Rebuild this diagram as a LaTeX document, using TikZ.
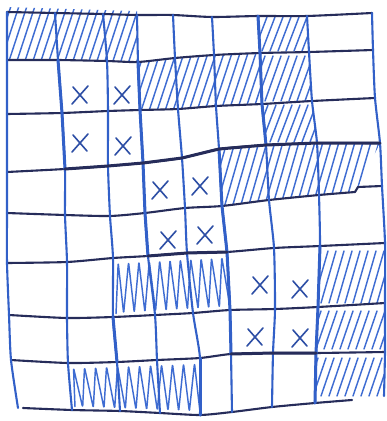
\documentclass[tikz,border=0pt]{standalone}
\usetikzlibrary{calc}
\definecolor{hcol}{RGB}{38,44,90}
\definecolor{vcol}{RGB}{50,96,200}
\definecolor{hatchcol}{RGB}{62,108,210}
\definecolor{xcol}{RGB}{45,78,165}
\begin{document}
\begin{tikzpicture}[x=1pt,y=-1pt,
  hl/.style={draw=hcol,line width=2.1pt,line cap=round,line join=round},
  vl/.style={draw=vcol,line width=2.1pt,line cap=round,line join=round},
  hlthick/.style={hl,line width=3pt},
  vlthick/.style={vl,line width=3pt},
  hatchline/.style={draw=hatchcol,line width=1.45pt,line cap=round},
  zz/.style={draw=hatchcol,line width=1.45pt,rounded corners=1.5pt,line join=round},
  xstroke/.style={draw=xcol,line width=1.6pt,line cap=round},
  pics/xmk/.style={code={\draw[xstroke] (-7,-8) -- (7,8); \draw[xstroke] (-8,9) -- (8,-9);}}
]
\fill[white] (0,0) rectangle (387,421);
\useasboundingbox (0,0) rectangle (387,421);
% grid points p<col><row>
\coordinate (p00) at (7,12);   \coordinate (p10) at (55,13);  \coordinate (p20) at (103,14);
\coordinate (p30) at (137,15); \coordinate (p40) at (173,15); \coordinate (p50) at (212,17);
\coordinate (p60) at (258,16); \coordinate (p70) at (307,16); \coordinate (p80) at (372,13);
\coordinate (p01) at (7,60);   \coordinate (p11) at (58,60);  \coordinate (p21) at (107,61);
\coordinate (p31) at (138,62); \coordinate (p41) at (175,58); \coordinate (p51) at (214,55);
\coordinate (p61) at (260,53); \coordinate (p71) at (309,52); \coordinate (p81) at (373,50);
\coordinate (p02) at (7,114);  \coordinate (p12) at (62,113); \coordinate (p22) at (108,111);
\coordinate (p32) at (140,110);\coordinate (p42) at (178,109);\coordinate (p52) at (216,106);
\coordinate (p62) at (262,104);\coordinate (p72) at (312,101);\coordinate (p82) at (375,98);
\coordinate (p03) at (7,172);  \coordinate (p13) at (65,169); \coordinate (p23) at (108,166);
\coordinate (p33) at (143,163);\coordinate (p43) at (182,158);\coordinate (p53) at (219,149);
\coordinate (p63) at (266,145);\coordinate (p73) at (317,143);\coordinate (p83) at (380,143);
\coordinate (p04) at (7,213);  \coordinate (p14) at (65,215); \coordinate (p24) at (110,216);
\coordinate (p34) at (145,213);\coordinate (p44) at (185,208);\coordinate (p54) at (222,206);
\coordinate (p64) at (269,200);\coordinate (p74) at (319,195);\coordinate (p84) at (382,186);
\coordinate (s1) at (355,192); \coordinate (s2) at (358,187);
\coordinate (p05) at (7,263);  \coordinate (p15) at (67,262); \coordinate (p25) at (113,258);
\coordinate (p35) at (148,256);\coordinate (p45) at (187,253);\coordinate (p55) at (227,252);
\coordinate (p65) at (274,248);\coordinate (p75) at (320,246);\coordinate (p85) at (385,243);
\coordinate (p06) at (9,315);  \coordinate (p16) at (67,318); \coordinate (p26) at (113,317);
\coordinate (p36) at (155,315);\coordinate (p46) at (193,313);\coordinate (p56) at (230,310);
\coordinate (p66) at (275,309);\coordinate (p76) at (318,307);\coordinate (p86) at (385,303);
\coordinate (p07) at (11,360); \coordinate (p17) at (68,363); \coordinate (p27) at (117,362);
\coordinate (p37) at (157,360);\coordinate (p47) at (200,358);\coordinate (p57) at (231,354);
\coordinate (p67) at (273,353);\coordinate (p77) at (316,353);\coordinate (p87) at (385,352);
\coordinate (p08) at (18,408); \coordinate (p18) at (72,410); \coordinate (p28) at (120,411);
\coordinate (p38) at (160,413);\coordinate (p48) at (200,415);\coordinate (p58) at (232,412);
\coordinate (p68) at (272,407);\coordinate (p78) at (315,403);\coordinate (p88) at (384,396);
\coordinate (e8) at (352,400); \coordinate (b0) at (23,408);

% hatch A: row 1, cols 1-3
\begin{scope}
\clip ($(p00)+(0,-5)$) -- ($(p30)+(0,-4)$) -- (p31) -- (p21) -- (p11) -- (p01) -- cycle;
\foreach \x in {-16,-8,...,140} \draw[hatchline] (\x,64) -- ++(19,-58);
\end{scope}
% hatch B: row 2, cols 4-6
\begin{scope}
\clip (p31) -- (p41) -- (p51) -- (p61) -- (p62) -- (p52) -- (p42) -- (p32) -- cycle;
\foreach \x in {116,124,...,262} \draw[hatchline] (\x,114) -- ++(21,-64);
\end{scope}
% hatch C: col 7, rows 1-3
\begin{scope}
\clip (p60) -- (p70) -- (p71) -- (p72) -- (p73) -- (p63) -- (p62) -- (p61) -- cycle;
\foreach \x in {238,246,...,312} {
  \draw[hatchline] (\x,51) -- ++(13,-34);
  \draw[hatchline] (\x+3,101) -- ++(16,-45);
  \draw[hatchline] (\x,142) -- ++(14,-37);
}
\end{scope}
% hatch D: row 4, cols 6-8
\begin{scope}
\clip (p53) -- (p63) -- (p73) -- (p83) -- (s2) -- (s1) -- (p74) -- (p64) -- (p54) -- cycle;
\foreach \x in {200,208,...,384} \draw[hatchline] (\x,208) -- ++(19,-66);
\end{scope}
% hatch F: col 8, rows 6-8
\begin{scope}
\clip (p75) -- (p85) -- (p86) -- (p87) -- (p88) -- (p78) -- (p77) -- (p76) -- cycle;
\foreach \x in {305,313,...,385} {
  \draw[hatchline] (\x,303) -- ++(15,-52);
  \draw[hatchline] (\x+3,349) -- ++(13,-38);
  \draw[hatchline] (\x,396) -- ++(13,-38);
}
\end{scope}
% zigzag E: row 6, cols 3-5
\draw[zz] ($(p26)+(3,-3)$) \foreach \k in {1,...,11} { -- ($(p25)!{(\k-0.5)/11}!(p55)+(0,5)$) -- ($(p26)!{\k/11}!(p56)+(0,-3)$) };
% zigzag G: row 8, cols 2-4
\draw[zz] ($(p18)+(3,-3)$) \foreach \k in {1,...,12} { -- ($(p17)!{(\k-0.5)/12}!(p47)+(0,5)$) -- ($(p18)!{\k/12}!(p48)+(0,-3)$) };

% horizontal lines
\draw[hl] plot[smooth,tension=0.4] coordinates {(p00) (p10) (p20) (p30) (p40) (p50) (p60) (p70) (p80)};
\draw[hl] plot[smooth,tension=0.4] coordinates {(p01) (p11) (p21) (p31) (p41) (p51) (p61) (p71) (p81)};
\draw[hl] plot[smooth,tension=0.4] coordinates {(p02) (p12) (p22) (p32) (p42) (p52) (p62) (p72) (p82)};
\draw[hl] plot[smooth,tension=0.4] coordinates {(p03) (p13) (p23) (p33) (p43) (p53) (p63) (p73) (p83)};
\draw[hl] plot[smooth,tension=0.4] coordinates {(p04) (p14) (p24) (p34) (p44) (p54) (p64) (p74) (s1)};
\draw[hl] (s1) -- (s2) -- (p84);
\draw[hl] plot[smooth,tension=0.4] coordinates {(p05) (p15) (p25) (p35) (p45) (p55) (p65) (p75) (p85)};
\draw[hl] plot[smooth,tension=0.4] coordinates {(p06) (p16) (p26) (p36) (p46) (p56) (p66) (p76) (p86)};
\draw[hl] plot[smooth,tension=0.4] coordinates {(p07) (p17) (p27) (p37) (p47) (p57) (p67) (p77) (p87)};
\draw[hl] plot[smooth,tension=0.4] coordinates {(b0) (p18) (p28) (p38) (p48) (p58) (p68) (p78) (e8)};
% vertical lines
\draw[vl] plot[smooth,tension=0.4] coordinates {(p00) (p01) (p02) (p03) (p04) (p05) (p06) (p07) (p08)};
\draw[vl] plot[smooth,tension=0.4] coordinates {(p10) (p11) (p12) (p13) (p14) (p15) (p16) (p17) (p18)};
\draw[vl] plot[smooth,tension=0.4] coordinates {(p20) (p21) (p22) (p23) (p24) (p25) (p26) (p27) (p28)};
\draw[vl] plot[smooth,tension=0.4] coordinates {(p30) (p31) (p32) (p33) (p34) (p35) (p36) (p37) (p38)};
\draw[vl] plot[smooth,tension=0.4] coordinates {(p40) (p41) (p42) (p43) (p44) (p45) (p46) (p47) (p48)};
\draw[vl] plot[smooth,tension=0.4] coordinates {(p50) (p51) (p52) (p53) (p54) (p55) (p56) (p57) (p58)};
\draw[vl] plot[smooth,tension=0.4] coordinates {(p60) (p61) (p62) (p63) (p64) (p65) (p66) (p67) (p68)};
\draw[vl] plot[smooth,tension=0.4] coordinates {(p70) (p71) (p72) (p73) (p74) (p75) (p76) (p77) (p78)};
\draw[vl] plot[smooth,tension=0.4] coordinates {(p80) (p81) (p82) (p83) (p84) (p85) (p86) (p87) (p88)};
% emphasised strokes
\draw[vlthick] (p11) -- (p12) -- (p13);
\draw[vlthick] (p31) -- (p32) -- (p33) -- (p34) -- (p35);
\draw[vlthick] (p53) -- (p54) -- (p55) -- (p56) -- (p57);
\draw[vlthick] (p60) -- (p61) -- (p62) -- (p63);
\draw[vlthick] (p75) -- (p76) -- (p77) -- (p78);
\draw[vlthick] (p26) -- (p27);
\draw[vlthick] (p47) -- (p48);
\draw[hlthick] (p13) -- (p23) -- (p33) -- (p43) -- (p53) -- (p63) -- (p73) -- (p83);
\draw[hlthick] (p35) -- (p45) -- (p55);
\draw[hlthick] (p57) -- (p67) -- (p77);
% crosses
\pic at (80,95) {xmk};  \pic at (122,95) {xmk};
\pic at (80,143) {xmk}; \pic at (123,146) {xmk};
\pic at (160,190) {xmk}; \pic at (200,186) {xmk};
\pic at (168,240) {xmk}; \pic at (205,235) {xmk};
\pic at (260,285) {xmk}; \pic at (300,289) {xmk};
\pic at (255,337) {xmk}; \pic at (300,338) {xmk};
\end{tikzpicture}
\end{document}
